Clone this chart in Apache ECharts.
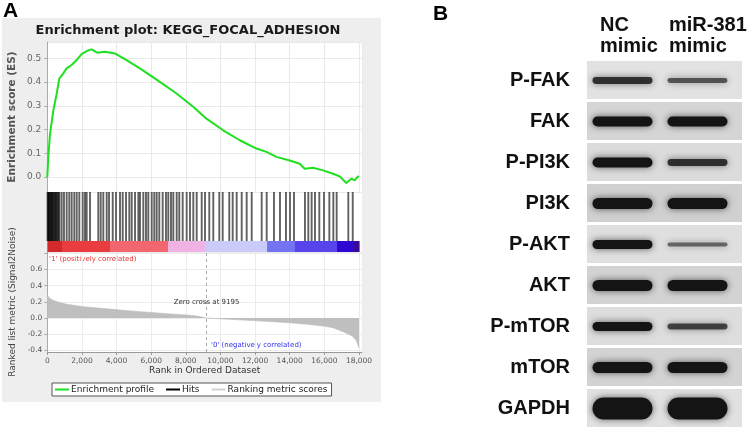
<!DOCTYPE html>
<html><head><meta charset="utf-8">
<script src="https://cdn.jsdelivr.net/npm/echarts@6/dist/echarts.min.js"></script>
<style>html,body{margin:0;padding:0;background:#fff}#c{width:750px;height:431px}</style>
</head><body><div id="c"></div>
<script>
// ---------- Panel A data (GSEA) ----------
const esRanks = [0,58,154,346,538,692,923,1115,1404,1692,1981,2308,2558,2885,3327,3904,4577,5346,6500,7462,8423,9192,10154,11115,12077,12654,13231,14000,14577,14865,15346,15923,16500,16885,17269,17558,17750,17942,18000];
const esScores = [0,0.085,0.18,0.28,0.35,0.415,0.437,0.458,0.472,0.493,0.518,0.532,0.538,0.524,0.528,0.521,0.493,0.458,0.401,0.352,0.296,0.246,0.197,0.155,0.12,0.106,0.085,0.07,0.056,0.035,0.039,0.028,0.014,0.003,-0.025,-0.007,-0.014,0.003,0];
const hitRanks = [15,45,80,110,150,190,230,270,310,350,400,450,500,545,600,650,700,
 831,964,1120,1270,1408,1559,1698,1848,2044,2177,2275,2466,2945,3084,3234,3430,3564,3778,3968,4199,4355,4546,4736,4875,5066,5256,5354,5545,5700,5833,6029,6179,6317,6467,6663,6854,6987,7143,7276,7472,7622,7818,8049,8240,8431,8627,8916,
 9107,9354,9585,9932,10128,10509,10706,10937,11226,11514,11803,12380,12669,13090,13437,13783,14014,14245,14880,15073,15265,15458,15708,15978,16287,16518,16710,17383,17637];
const metricRanks = [0,100,330,700,1130,1600,2100,2800,3630,4500,5360,6200,7100,7800,8430,8800,9195,10000,11000,12100,13000,14020,15000,15940,16500,17080,17400,17650,17850,17950,18000];
const metricValues = [0.29,0.25,0.22,0.19,0.17,0.155,0.14,0.125,0.11,0.092,0.078,0.065,0.05,0.04,0.03,0.018,0,-0.01,-0.022,-0.035,-0.045,-0.06,-0.077,-0.1,-0.12,-0.17,-0.2,-0.23,-0.28,-0.34,-0.37];
const colorBarStarts = [0,850,3620,6970,9100,12690,14300,16730,17700];
const colorBarEnds   = [850,3620,6970,9100,12690,14300,16730,17700,18000];
const colorBarLevels = [4,3,2,1,-1,-2,-3,-4,-5];
const zeroCross = 9195;
const titleText = 'Enrichment plot: KEGG_FOCAL_ADHESION';

// ---------- Panel B data (western blot) ----------
const blotProteins = ['P-FAK','FAK','P-PI3K','PI3K','P-AKT','AKT','P-mTOR','mTOR','GAPDH'];
const blotLanes = ['NC\nmimic','miR-381\nmimic'];
const ncMimicBand  = [0.36,0.64,0.64,0.73,0.55,0.73,0.55,0.73,1.73];
const mirMimicBand = [0.18,0.64,0.36,0.73,0.10,0.73,0.27,0.73,1.73];

// ---------- styles ----------
const colorBarPalette = {'4':'#d22a2a','3':'#e93c3e','2':'#f26670','1':'#f0b2e2','-1':'#cbcbfa','-2':'#7474f2','-3':'#5744ea','-4':'#2e08d0','-5':'#3a0a96'};
const rowShades = ['#e2e2e2','#d5d5d5','#dbdbdb','#d0d0d0','#dfdfdf','#d3d3d3','#dddddd','#d3d3d3','#e1e1e1'];
const FA = '"DejaVu Sans", sans-serif';
const FB = '"Liberation Sans", Arial, sans-serif';
const PL = 47.3, PW = 314.7, XMAX = 18173;

const chart = echarts.init(document.getElementById('c'));
const fmtK = v => String(v).replace(/\B(?=(\d{3})+(?!\d))/g, ',');
const valueX = (gi, extra) => Object.assign({gridIndex: gi, type:'value', min:0, max:XMAX, interval:2000}, extra);

chart.setOption({
  animation:false,
  backgroundColor:'#ffffff',
  grid:[
    {left:PL, top:42, width:PW, height:150, show:true, backgroundColor:'#fff', borderWidth:0},
    {left:PL, top:192, width:PW, height:49, show:true, backgroundColor:'#fff', borderWidth:0},
    {left:PL, top:241, width:PW, height:11, show:true, backgroundColor:'#fff', borderWidth:0},
    {left:PL, top:252, width:PW, height:100, show:true, backgroundColor:'#fff', borderWidth:0},
    {left:585, top:60, width:150, height:369}
  ],
  xAxis:[
    valueX(0,{axisLabel:{show:false}, axisLine:{show:false}, axisTick:{show:false}, splitLine:{show:true, lineStyle:{color:'#e9e9e9', width:1}}}),
    valueX(1,{show:false}),
    valueX(2,{show:false}),
    valueX(3,{axisLabel:{fontSize:7.5, color:'#555', fontFamily:FA, margin:5, showMaxLabel:false, formatter:fmtK},
      axisLine:{show:true, onZero:false, lineStyle:{color:'#999'}}, axisTick:{show:true, length:3, lineStyle:{color:'#999'}},
      splitLine:{show:true, lineStyle:{color:'#ececec'}},
      name:'Rank in Ordered Dataset', nameLocation:'middle', nameGap:14,
      nameTextStyle:{fontSize:9, color:'#333', fontFamily:FA}}),
    {gridIndex:4, type:'category', data:blotLanes, show:false}
  ],
  yAxis:[
    {gridIndex:0, type:'value', min:-0.063, max:0.569, splitNumber:6,
      axisLabel:{fontSize:9, color:'#666', fontFamily:FA, margin:6, showMinLabel:false, showMaxLabel:false, formatter:v=>v.toFixed(1)},
      axisLine:{show:true, onZero:false, lineStyle:{color:'#aaa'}}, axisTick:{show:true, length:3, lineStyle:{color:'#aaa'}},
      splitLine:{show:true, lineStyle:{color:'#e9e9e9'}},
      name:'Enrichment score (ES)', nameLocation:'middle', nameGap:30,
      nameTextStyle:{fontSize:10.5, fontWeight:'bold', color:'#555', fontFamily:FA}},
    {gridIndex:1, type:'value', min:0, max:1, show:false},
    {gridIndex:2, type:'value', min:0, max:1, show:false},
    {gridIndex:3, type:'value', min:-0.42, max:0.815, splitNumber:6,
      axisLabel:{fontSize:7.5, color:'#555', fontFamily:FA, margin:5, showMinLabel:false, showMaxLabel:false,
        formatter:v=> (v > 0.7 ? '' : v.toFixed(1))},
      axisLine:{show:true, onZero:false, lineStyle:{color:'#aaa'}}, axisTick:{show:true, length:3, lineStyle:{color:'#aaa'}},
      splitLine:{show:true, lineStyle:{color:'#ececec'}},
      name:'Ranked list metric (Signal2Noise)', nameLocation:'middle', nameGap:30,
      nameTextStyle:{fontSize:9, color:'#444', fontFamily:FA}},
    {gridIndex:4, type:'category', data:blotProteins, inverse:true,
      axisLine:{show:false}, axisTick:{show:false}, splitLine:{show:false},
      axisLabel:{fontSize:20, fontWeight:'bold', color:'#111', fontFamily:FB, margin:15, padding:[5,0,0,0]}}
  ],
  legend:{
    data:['Enrichment profile','Hits','Ranking metric scores'],
    left:52, top:383, icon:'rect', itemWidth:14, itemHeight:2, itemGap:12,
    padding:[2,4,2,3], borderColor:'#555', borderWidth:1, backgroundColor:'#fff',
    selectedMode:false, textStyle:{fontSize:9, color:'#222', fontFamily:FA, padding:[0,0,0,-3]}
  },
  series:[
    {name:'Ranking metric scores', type:'line', xAxisIndex:3, yAxisIndex:3,
      data: metricRanks.map((r,i)=>[r, metricValues[i]]), symbol:'none',
      itemStyle:{color:'#d2d2d2'}, lineStyle:{color:'#bcbcbc', width:0.6},
      areaStyle:{color:'#bfbfbf', opacity:1, origin:0},
      markLine:{silent:true, symbol:'none', label:{show:false},
        lineStyle:{type:[3,3], color:'#aaa', width:1}, data:[{xAxis:zeroCross}]},
      markPoint:{silent:true, symbol:'circle', symbolSize:0,
        data:[{coord:[zeroCross, 0.2], label:{show:true, position:'inside', formatter:'Zero cross at ' + zeroCross, fontSize:7, color:'#333', fontFamily:FA}}]}
    },
    {name:'Enrichment profile', type:'line', xAxisIndex:0, yAxisIndex:0,
      data: esRanks.map((r,i)=>[r, esScores[i]]), symbol:'none',
      itemStyle:{color:'#1fe01f'}, lineStyle:{color:'#1fe01f', width:2}, z:5},
    {name:'Hits', type:'custom', xAxisIndex:1, yAxisIndex:1,
      data: hitRanks.map(r=>[r, 0]), encode:{x:0, y:1}, itemStyle:{color:'#000'},
      renderItem:(params, api)=>{
        const x = api.coord([api.value(0), 0])[0];
        const cs = params.coordSys;
        return {type:'line', shape:{x1:x, y1:cs.y, x2:x, y2:cs.y+cs.height},
          style:{stroke:'#000', lineWidth:1.9, opacity:0.62}};
      }},
    {name:'colorbar', type:'custom', xAxisIndex:2, yAxisIndex:2,
      data: colorBarStarts.map((s,i)=>[s, colorBarEnds[i], colorBarLevels[i]]), encode:{x:[0,1]},
      renderItem:(params, api)=>{
        const s = api.coord([api.value(0), 0])[0];
        const e = api.coord([api.value(1), 0])[0];
        const cs = params.coordSys;
        return {type:'rect', shape:{x:s, y:cs.y, width:e-s+0.6, height:cs.height},
          style:{fill: colorBarPalette[String(api.value(2))]}};
      }},
    {name:'blotBg', type:'custom', xAxisIndex:4, yAxisIndex:4,
      data: blotProteins.map((p,i)=>[0, i]), encode:{x:0, y:1},
      renderItem:(params, api)=>{
        const c = api.coord([0, api.value(1)]);
        const h = api.size([0, 1])[1];
        const cs = params.coordSys;
        return {type:'rect', shape:{x:cs.x+2, y:c[1]-h/2+1, width:cs.width+5, height:h-3},
          style:{fill: rowShades[api.value(1)]}};
      }},
    {name:'blotBands', type:'custom', xAxisIndex:4, yAxisIndex:4, z:3,
      data: blotProteins.flatMap((p,i)=>[[0, i, ncMimicBand[i]],[1, i, mirMimicBand[i]]]), encode:{x:0, y:1},
      renderItem:(params, api)=>{
        const c = api.coord([api.value(0), api.value(1)]);
        const v = api.value(2);
        const t = 3 + 11*v;
        const w = 60;
        return {type:'rect', shape:{x:c[0]-w/2, y:c[1]-t/2, width:w, height:t, r:t/2},
          style:{fill:'#141414', opacity:Math.min(1, 0.45+v), shadowBlur:7, shadowColor:'rgba(0,0,0,0.6)'}};
      }}
  ],
  graphic:[
    {type:'rect', z:-100, shape:{x:2, y:18, width:379, height:384}, style:{fill:'#eeeeee'}},
    {type:'text', x:3, y:1, style:{text:'A', font:'bold 21px '+FB, fill:'#000'}},
    {type:'text', x:433, y:4, style:{text:'B', font:'bold 21px '+FB, fill:'#000'}},
    {type:'text', x:188, y:31, style:{text:titleText, font:'bold 13px '+FA, fill:'#1a1a1a', align:'center', verticalAlign:'middle'}},
    {type:'text', x:49, y:259, style:{text:"'1' (positively correlated)", font:'7px '+FA, fill:'#e83030', verticalAlign:'middle'}},
    {type:'text', x:211, y:345, style:{text:"'0' (negatively correlated)", font:'7px '+FA, fill:'#3030f0', verticalAlign:'middle'}},
    {type:'text', x:600, y:15, style:{text:blotLanes[0], font:'bold 20px '+FB, lineHeight:21, fill:'#111'}},
    {type:'text', x:669, y:15, style:{text:blotLanes[1], font:'bold 20px '+FB, lineHeight:21, fill:'#111'}}
  ]
});
</script></body></html>
